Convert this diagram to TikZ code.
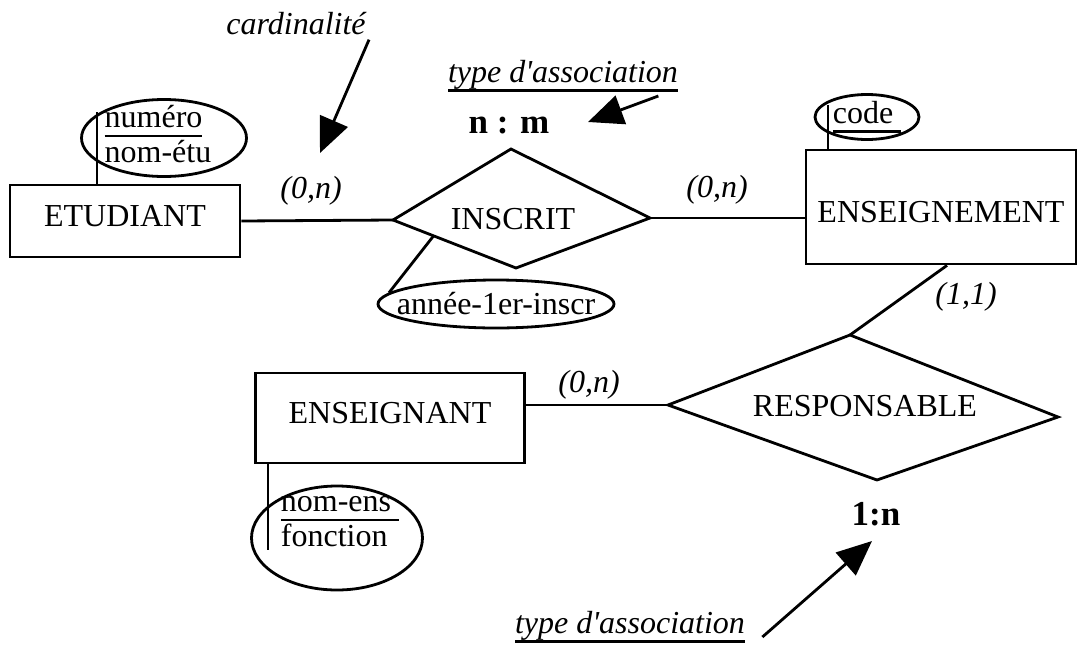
\documentclass[tikz,border=0pt]{standalone}
\usepackage{fontspec}
\setmainfont{Liberation Serif}
\usetikzlibrary{arrows.meta}
\usetikzlibrary{shapes.geometric}
\usetikzlibrary{calc}
\newsavebox{\soulbox}
\newcommand{\souligne}[1]{\sbox{\soulbox}{#1}\rlap{\rule[-9pt]{\wd\soulbox}{2.2pt}}\usebox{\soulbox}}

\begin{document}
\begin{tikzpicture}[x=1pt,y=-1pt,line width=2.8pt,
  every node/.style={font=\fontsize{32}{35}\selectfont,inner sep=0pt},
  entity/.style={draw,rectangle},
  attr/.style={draw,ellipse},
  cardlabel/.style={font=\fontsize{32}{35}\selectfont\itshape},
  note/.style={font=\fontsize{32}{35}\selectfont\itshape},
  assoctype/.style={font=\fontsize{35}{38}\selectfont\bfseries},
  pointer/.style={-{Triangle[length=35pt,width=30pt]}}]
\useasboundingbox (0,0) rectangle (1078,651);

% entites
\node[entity,minimum width=230pt,minimum height=72pt,text height=21pt,text depth=10pt] (etudiant) at (125,221) {ETUDIANT};
\node[entity,minimum width=270pt,minimum height=114pt,text height=31pt,text depth=0pt] (enseignement) at (941,207) {ENSEIGNEMENT};
\node[entity,minimum width=269pt,minimum height=90pt,text height=21pt,text depth=10pt] (enseignant) at (390,418) {ENSEIGNANT};

% associations
\coordinate (ins-w) at (393,220);
\coordinate (ins-n) at (511,149);
\coordinate (ins-e) at (650,218);
\coordinate (ins-s) at (516,268);
\draw (ins-w) -- (ins-n) -- (ins-e) -- (ins-s) -- cycle;
\node (inscrit) at (513,219) {INSCRIT};
\coordinate (resp-w) at (668,405);
\coordinate (resp-n) at (850,335);
\coordinate (resp-e) at (1058,417);
\coordinate (resp-s) at (877,480);
\draw (resp-w) -- (resp-n) -- (resp-e) -- (resp-s) -- cycle;
\node (responsable) at (865,406) {RESPONSABLE};

% attributs
\node[attr,minimum width=165pt,minimum height=77pt,
  label={[align=left,xshift=-6pt,yshift=3.5pt]center:{\souligne{numéro}\\nom-étu}}] (etu-att) at (164,138) {};
\node[attr,minimum width=104pt,minimum height=45pt,
  label={center:\souligne{code\ }}] (code-att) at (867,117) {};
\node[attr,minimum width=171pt,minimum height=104pt,
  label={[align=left,xshift=3pt,yshift=16pt]center:{\souligne{nom-ens\ }\\fonction}}] (ens-att) at (337,538) {};
\node[attr,minimum width=236pt,minimum height=48pt,
  label={center:année-1er-inscr}] (annee-att) at (496,304) {};

\coordinate (etu-key) at (97,112);
\draw (etu-key) -- (etu-key |- etudiant.north);
\coordinate (code-key) at (828,105);
\draw (code-key) -- (code-key |- enseignement.north);
\coordinate (ens-key) at (268,550);
\draw (ens-key |- enseignant.south) -- (ens-key);
\draw ($(ins-w)!0.33!(ins-s)$) -- (annee-att.174);

% liens
\draw (etudiant.east) -- (ins-w);
\draw (ins-e) -- (ins-e -| enseignement.west);
\draw (enseignant.east |- resp-w) -- (resp-w);
\draw ([xshift=6pt]enseignement.south) -- (resp-n);

% cardinalites
\node[cardlabel] (c-etu) at (311,191) {(0,n)};
\node[cardlabel] (c-enst) at (717,190) {(0,n)};
\node[cardlabel] (c-resp) at (966,297) {(1,1)};
\node[cardlabel] (c-ens) at (589,385) {(0,n)};

% types d'association
\node[assoctype] (nm) at (509,125) {n : m};
\node[assoctype] (un-n) at (876,514) {1:n};

% annotations
\node[note] (card) at (296,24) {cardinalité};
\node[note] (typ1) at (563,76) {\souligne{type d\textquotesingle association}};
\node[note] (typ2) at (630,627) {\souligne{type d\textquotesingle association}};
\coordinate (card-tip) at (320,153);
\coordinate (nm-tip) at (588,122);
\coordinate (un-n-tip) at (872,541);
\draw[pointer] ([shift={(2,3)}]card.south east) -- (card-tip);
\draw[pointer] ([shift={(-21,3)}]typ1.south east) -- (nm-tip);
\draw[pointer] ([shift={(16,10)}]typ2.east) -- (un-n-tip);
\end{tikzpicture}
\end{document}
